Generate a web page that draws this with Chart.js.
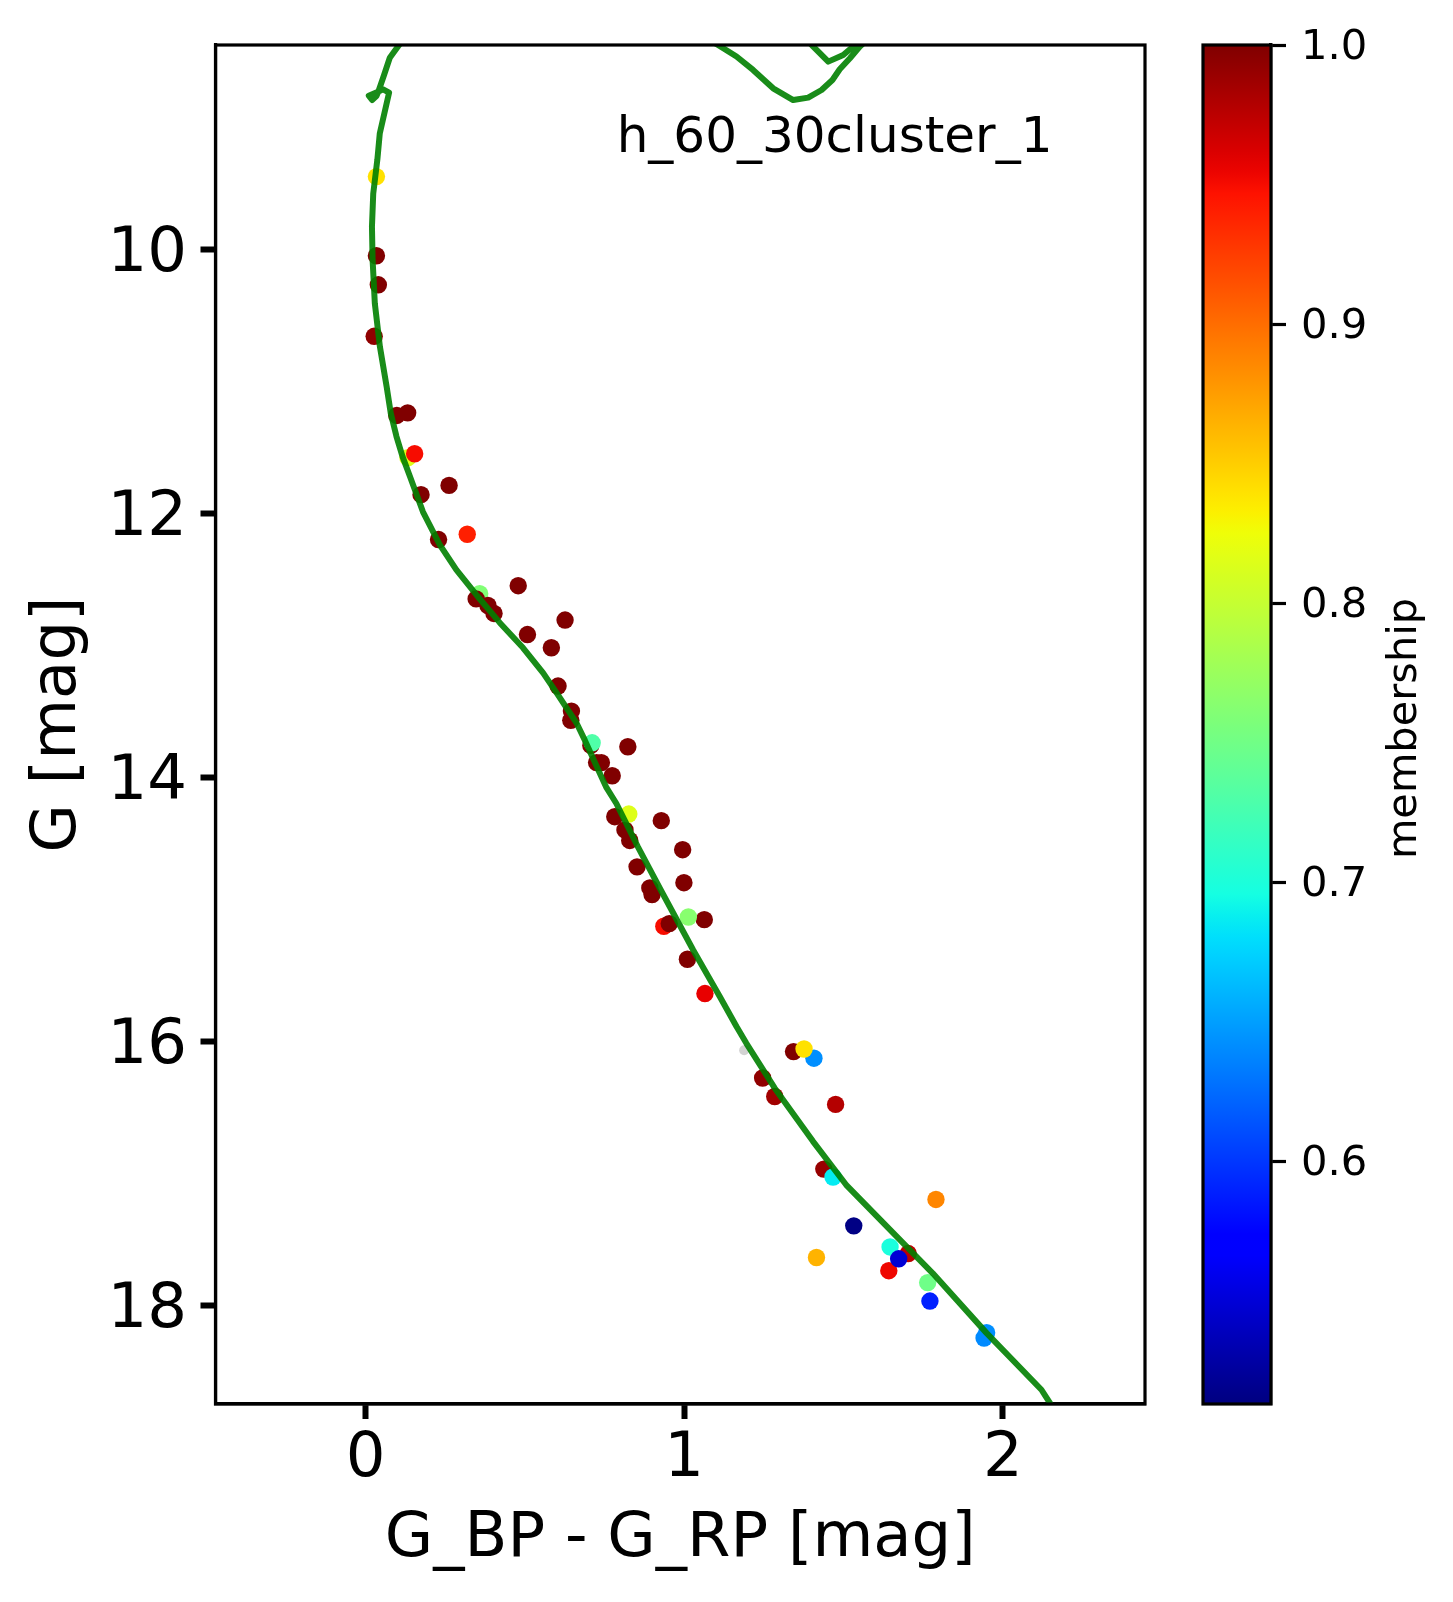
<!DOCTYPE html>
<html><head><meta charset="utf-8">
<style>html,body{margin:0;padding:0;background:#fff}canvas{position:absolute;left:0;top:0}</style>
<script src="https://cdn.jsdelivr.net/npm/chart.js@4"></script>
</head><body>
<canvas id="main" width="1453" height="1602"></canvas>
<canvas id="cbar" width="1453" height="1602"></canvas>
<script>
const memberX = [0.133,0.358,0.936,1.703,1.407,1.949,
 0.034,0.04,0.027,0.098,0.132,0.174,0.262,0.229,0.347,0.384,0.403,0.479,0.508,0.626,0.583,0.604,0.646,0.644,
 0.707,0.823,0.725,0.74,0.774,0.782,0.814,0.829,0.928,0.995,0.852,0.999,0.892,0.899,0.953,1.063,1.01,
 1.246,1.284,1.343,1.475,1.438,
 0.034,0.154,0.319,0.711,0.826,1.013,1.065,1.376,1.467,1.532,1.79,1.415,1.646,1.642,1.673,1.764,1.771,1.941];
const memberY = [11.58,12.61,15.13,17.61,16.13,18.21,
 10.05,10.27,10.66,11.26,11.24,11.86,11.79,12.2,12.65,12.7,12.76,12.55,12.92,12.81,13.02,13.31,13.5,13.57,
 13.76,13.77,13.89,13.89,13.99,14.3,14.4,14.48,14.33,14.55,14.68,14.8,14.84,14.89,15.11,15.08,15.38,
 16.28,16.42,16.08,16.48,16.97,
 9.45,11.55,12.16,13.74,14.28,15.06,15.64,16.06,17.03,17.4,17.2,17.64,17.56,17.74,17.65,17.83,17.97,18.25];
const memberP = [0.815,0.76,0.95,0.975,0.642,0.642,
 1,1,0.993,1,1,1,1,1,1,1,1,1,1,1,1,1,1,1,
 1,1,1,1,1,1,1,1,1,1,1,1,1,1,1,1,1,
 0.993,0.986,1,0.978,0.99,
 0.84,0.95,0.94,0.73,0.815,0.764,0.956,0.84,0.686,0.515,0.887,0.864,0.699,0.953,0.549,0.749,0.589,0.64];
const outlierX = [1.188];
const outlierY = [16.07];
const isoX = [2.148,2.121,1.949,1.78,1.508,1.404,1.284,1.195,1.164,1.111,1.028,0.923,0.855,0.787,0.756,0.735,0.688,0.662,0.599,0.557,0.494,0.421,0.348,0.285,0.233,0.18,0.139,0.116,0.097,0.079,0.066,0.045,0.029,0.022,0.02,0.024,0.037,0.0446,0.0738,0.055,0.039,0.01,0.0205,0.034,0.041,0.058,0.076,0.105,0.128,1.08,1.106,1.164,1.216,1.279,1.342,1.389,1.431,1.465,1.488,1.52,1.551,1.58,1.56,1.53,1.499,1.452,1.405,1.38];
const isoY = [18.744,18.642,18.213,17.76,17.089,16.76,16.357,16.017,15.89,15.66,15.31,14.84,14.53,14.2,14.08,13.97,13.72,13.59,13.36,13.21,13.02,12.83,12.62,12.43,12.24,11.99,11.72,11.572,11.42,11.243,11.04,10.74,10.41,10.08,9.83,9.58,9.32,9.122,8.814,8.789,8.807,8.837,8.87,8.84,8.8,8.68,8.55,8.453,8.38,8.415,8.453,8.54,8.642,8.781,8.87,8.852,8.794,8.718,8.637,8.553,8.465,8.4,8.4,8.465,8.529,8.579,8.465,8.4];
const xTicks = [0,1,2];
const yTicks = [10,12,14,16,18];
const cbTicks = [0.6,0.7,0.8,0.9,1.0];
const xRange = [-0.471,2.446];
const yRange = [8.453,18.75];
const cbRange = [0.513,1.0];
const xLabel = 'G_BP - G_RP [mag]';
const yLabel = 'G [mag]';
const cbLabel = 'membership';
const noteText = 'h_60_30cluster_1';
const noteAt = [0.788,9.166];

const FONT = '"DejaVu Sans"';
function interp(t, xs, ys){
  for(let i=1;i<xs.length;i++){ if(t<=xs[i]) return ys[i-1]+(ys[i]-ys[i-1])*(t-xs[i-1])/(xs[i]-xs[i-1]); }
  return ys[ys.length-1];
}
function jet(t){
  t=Math.max(0,Math.min(1,t));
  const r=interp(t,[0,0.35,0.66,0.89,1],[0,0,1,1,0.5]);
  const g=interp(t,[0,0.125,0.375,0.64,0.91,1],[0,0,1,1,0,0]);
  const b=interp(t,[0,0.11,0.34,0.65,1],[0.5,1,1,0,0]);
  return `rgb(${Math.round(r*255)},${Math.round(g*255)},${Math.round(b*255)})`;
}
const normP = p => (p-cbRange[0])/(cbRange[1]-cbRange[0]);

// nudge a y axis' tick labels down, the way the reference sets them against their ticks
function shiftLabels(scale, dy){
  if(scale._shifted) return;
  scale._shifted=true;
  const orig=scale.drawLabels;
  scale.drawLabels=function(area){
    const c=this.ctx; c.save(); c.translate(0,dy); orig.call(this,area); c.restore();
  };
}
function noPad(s){ s.paddingTop=0; s.paddingBottom=0; s.paddingLeft=0; s.paddingRight=0; }

const framePlugin = {id:'frame', afterDraw(chart){
  const a=chart.chartArea, c=chart.ctx;
  c.save(); c.strokeStyle='#000'; c.lineWidth=3.2;
  c.strokeRect(a.left,a.top,a.right-a.left,a.bottom-a.top); c.restore();
}};
const notePlugin = {id:'note', afterDraw(chart){
  const c=chart.ctx;
  c.save(); c.fillStyle='#000'; c.font='50px '+FONT; c.textAlign='left'; c.textBaseline='middle';
  c.fillText(noteText, chart.scales.x.getPixelForValue(noteAt[0]), chart.scales.y.getPixelForValue(noteAt[1]));
  c.restore();
}};
const cbTitlePlugin = {id:'cbTitle', afterDraw(chart){
  const c=chart.ctx, a=chart.chartArea;
  c.save(); c.translate(1405,(a.top+a.bottom)/2+4); c.rotate(-Math.PI/2);
  c.fillStyle='#000'; c.font='41.5px '+FONT; c.textAlign='center'; c.textBaseline='middle';
  c.fillText(cbLabel,0,0); c.restore();
}};

function axis(tickWidth, extra){
  return Object.assign({
    type:'linear',
    border:{display:true,color:'#000',width:3.2},
    grid:{drawOnChartArea:false,drawTicks:true,tickLength:15,tickWidth:tickWidth,tickColor:'#000'}
  },extra);
}

new Chart(document.getElementById('main'),{
  type:'scatter',
  data:{datasets:[
    {label:'isochrone',type:'line',order:0,data:isoX.map((x,i)=>({x,y:isoY[i]})),
     borderColor:'rgba(0,128,0,0.9)',borderWidth:6,pointRadius:0,tension:0,fill:false,
     borderJoinStyle:'round',borderCapStyle:'round',clip:0},
    {label:'members',order:1,data:memberX.map((x,i)=>({x,y:memberY[i]})),
     pointRadius:8.7,pointBorderWidth:0,
     pointBackgroundColor:ctx=>jet(normP(memberP[ctx.dataIndex]))},
    {label:'field',order:2,data:outlierX.map((x,i)=>({x,y:outlierY[i]})),
     pointRadius:5,pointBorderWidth:0,pointBackgroundColor:'#d3d3d3'}
  ]},
  options:{
    responsive:false,animation:false,devicePixelRatio:1,
    layout:{padding:{left:0,top:45,right:308,bottom:0}},
    plugins:{legend:{display:false},tooltip:{enabled:false}},
    scales:{
      x:axis(6,{position:'bottom',min:xRange[0],max:xRange[1],
        afterBuildTicks:s=>{s.ticks=xTicks.map(v=>({value:v}));},
        afterFit:s=>{s.height=198; noPad(s);},
        ticks:{autoSkip:false,maxRotation:0,color:'#000',font:{family:FONT,size:62.5},padding:3,callback:v=>String(v)},
        title:{display:true,text:xLabel,color:'#000',font:{family:FONT,size:62.5},padding:{top:0,bottom:24.5}}}),
      y:axis(6,{position:'left',reverse:true,min:yRange[0],max:yRange[1],
        afterBuildTicks:s=>{s.ticks=yTicks.map(v=>({value:v}));},
        afterFit:s=>{s.width=215.5; noPad(s); shiftLabels(s,6);},
        ticks:{autoSkip:false,color:'#000',font:{family:FONT,size:62.5},padding:13.5,callback:v=>String(v)},
        title:{display:true,text:yLabel,color:'#000',font:{family:FONT,size:62.5},padding:{top:21.5,bottom:0}}})
    }
  },
  plugins:[framePlugin,notePlugin]
});

new Chart(document.getElementById('cbar'),{
  type:'bar',
  data:{labels:[cbLabel],datasets:[{
    data:[[cbRange[0],cbRange[1]]],barPercentage:1,categoryPercentage:1,borderWidth:0,
    backgroundColor:ctx=>{
      const a=ctx.chart.chartArea; if(!a) return '#800000';
      const g=ctx.chart.ctx.createLinearGradient(0,a.bottom,0,a.top);
      for(let i=0;i<=64;i++) g.addColorStop(i/64,jet(i/64));
      return g;
    }
  }]},
  options:{
    responsive:false,animation:false,devicePixelRatio:1,
    layout:{padding:{left:1203,top:45,right:0,bottom:198}},
    plugins:{legend:{display:false},tooltip:{enabled:false}},
    scales:{
      x:{display:false},
      y:axis(3.2,{position:'right',min:cbRange[0],max:cbRange[1],
        afterBuildTicks:s=>{s.ticks=cbTicks.map(v=>({value:v}));},
        afterFit:s=>{s.width=182; noPad(s); shiftLabels(s,3);},
        ticks:{autoSkip:false,color:'#000',font:{family:FONT,size:41.7},padding:15,callback:v=>v.toFixed(1)}})
    }
  },
  plugins:[framePlugin,cbTitlePlugin]
});
</script>
</body></html>
